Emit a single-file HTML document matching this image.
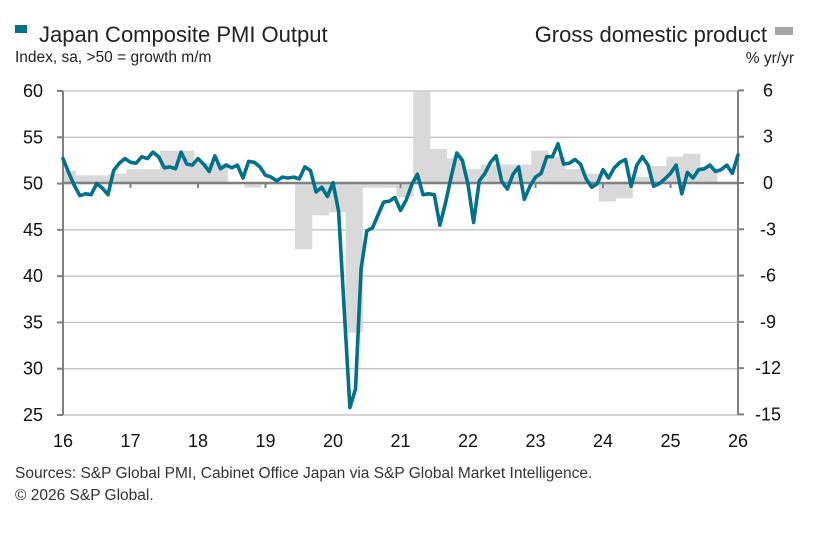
<!DOCTYPE html>
<html><head><meta charset="utf-8"><style>
body{margin:0;background:#fff;width:826px;height:528px;overflow:hidden;font-family:"Liberation Sans",sans-serif;}
svg text{font-family:"Liberation Sans",sans-serif;}
</style></head><body>
<svg width="826" height="528" viewBox="0 0 826 528">
<defs><clipPath id="plotclip"><rect x="63" y="85" width="675" height="335"/></clipPath></defs>
<g id="bars" clip-path="url(#plotclip)"></g>
<g id="chart"></g>
</svg>
<script>
const pmiValues=[52.7,51.2,49.8,48.7,48.9,48.8,50.0,49.5,48.8,51.4,52.2,52.7,
52.3,52.2,52.9,52.7,53.4,52.9,51.7,51.8,51.6,53.4,52.1,52.0,
52.7,52.1,51.3,53.0,51.6,52.0,51.7,52.0,50.6,52.4,52.3,51.8,
50.9,50.7,50.3,50.7,50.6,50.7,50.5,51.8,51.4,49.1,49.6,48.6,
50.1,47.0,36.2,25.8,27.8,40.8,44.9,45.2,46.6,48.0,48.1,48.5,
47.1,48.2,49.9,51.0,48.8,48.9,48.8,45.5,47.9,50.7,53.3,52.5,
49.9,45.8,50.3,51.1,52.3,53.0,50.2,49.4,51.0,51.8,48.3,49.7,
50.7,51.1,52.9,52.9,54.3,52.1,52.2,52.6,52.1,50.5,49.6,50.0,
51.5,50.6,51.7,52.3,52.6,49.7,52.0,52.9,52.0,49.7,50.0,50.5,
51.1,52.0,48.9,51.2,50.6,51.5,51.6,52.0,51.3,51.5,52.0,51.1,53.1];
const gdpValues=[0.8,0.5,0.5,0.6, 0.9,0.9,2.1,2.1, 1.3,1.3,0.0,-0.3,
-0.1,0.0,-4.3,-2.1, -1.9,-9.7,-0.3,-0.3, -0.9,5.9,2.2,1.6,
0.9,1.2,1.2,1.2, 2.1,1.7,0.9,0.6, -1.2,-1.0,0.4,1.1, 1.7,1.9,1.0,0.0];
const leftTicks=[25,30,35,40,45,50,55,60];
const rightTicks=[6,3,0,-3,-6,-9,-12,-15];
const yearLabels=["16","17","18","19","20","21","22","23","24","25","26"];

const NS="http://www.w3.org/2000/svg";
const g=document.getElementById('chart');
const gb=document.getElementById('bars');
const X0=63,X1=738,YT=91,YB=415;
const yL=v=>YT+(60-v)*(YB-YT)/35;
const yR=v=>183-v*(YB-YT)/21;
const xYear=i=>X0+i*(X1-X0)/10;
const xMonth=i=>X0+i*(X1-X0)/120;
const xQuarter=i=>X0+(i-0.25)*(X1-X0)/40;
function el(t,a,p){const e=document.createElementNS(NS,t);for(const k in a)e.setAttribute(k,a[k]);(p||g).appendChild(e);return e;}

leftTicks.forEach(v=>{
  const l=el('line',{x1:X0,x2:X1,y1:yL(v),y2:yL(v),stroke:'#bdbdbd','stroke-width':1.2},gb);
  
  
});
gdpValues.forEach((v,i)=>{
  const y0=yR(0),y1=yR(v);
  const r=el('rect',{x:xQuarter(i),y:Math.min(y0,y1),width:(X1-X0)/40+0.3,height:Math.abs(y1-y0),fill:'#d9d9d9'},gb);
  
  
});
const za=el('line',{x1:X0,x2:X1,y1:183,y2:183,stroke:'#808080','stroke-width':2.5});


yearLabels.forEach((s,i)=>{
  const t=el('line',{x1:xYear(i),x2:xYear(i),y1:183,y2:188,stroke:'#808080','stroke-width':2});
  
  
  const tx=el('text',{x:xYear(i),y:447,'font-size':18,'text-anchor':'middle',fill:'#111'});
  tx.textContent=s;
  
  
});
const la=el('line',{x1:X0,x2:X0,y1:YT,y2:YB,stroke:'#808080','stroke-width':2});


leftTicks.forEach(v=>{
  const t=el('line',{x1:X0-6,x2:X0,y1:yL(v),y2:yL(v),stroke:'#808080','stroke-width':2});
  
  
  const tx=el('text',{x:43,y:yL(v)+6,'font-size':18,'text-anchor':'end',fill:'#111'});
  tx.textContent=v;
  
  
});
const ra=el('line',{x1:X1,x2:X1,y1:YT,y2:YB,stroke:'#808080','stroke-width':2});


rightTicks.forEach(v=>{
  const t=el('line',{x1:X1,x2:X1+6,y1:yR(v),y2:yR(v),stroke:'#808080','stroke-width':2});
  
  
  const tx=el('text',{x:768,y:yR(v)+6,'font-size':18,'text-anchor':'middle',fill:'#111'});
  tx.textContent=v;
  
  
});
const pts=pmiValues.map((v,i)=>xMonth(i).toFixed(1)+','+yL(v).toFixed(1)).join(' ');
const pl=el('polyline',{points:pts,fill:'none',stroke:'#00718a','stroke-width':3.6,'stroke-linejoin':'round','stroke-linecap':'round'});



function txt(x,y,s,size,anchor,name,fill){const t=el('text',{x:x,y:y,'font-size':size,'text-anchor':anchor,fill:fill||'#222'});t.textContent=s;

return t;}
const ls=el('rect',{x:15,y:25,width:12,height:8,fill:'#00718a'});


txt(39,42,'Japan Composite PMI Output',22,'start','legend-pmi-title');
txt(15,62,'Index, sa, >50 = growth m/m',15.5,'start','left-axis-subtitle');
const gs=el('rect',{x:775,y:27,width:18,height:8,fill:'#a6a6a6'});


txt(767,42,'Gross domestic product',22,'end','legend-gdp-title');
txt(794,63,'% yr/yr',15.5,'end','right-axis-subtitle');
txt(15,478,'Sources: S&P Global PMI, Cabinet Office Japan via S&P Global Market Intelligence.',15.5,'start','source-note','#333');
txt(15,500,'© 2026 S&P Global.',15.5,'start','copyright-note','#333');
</script>
</body></html>
